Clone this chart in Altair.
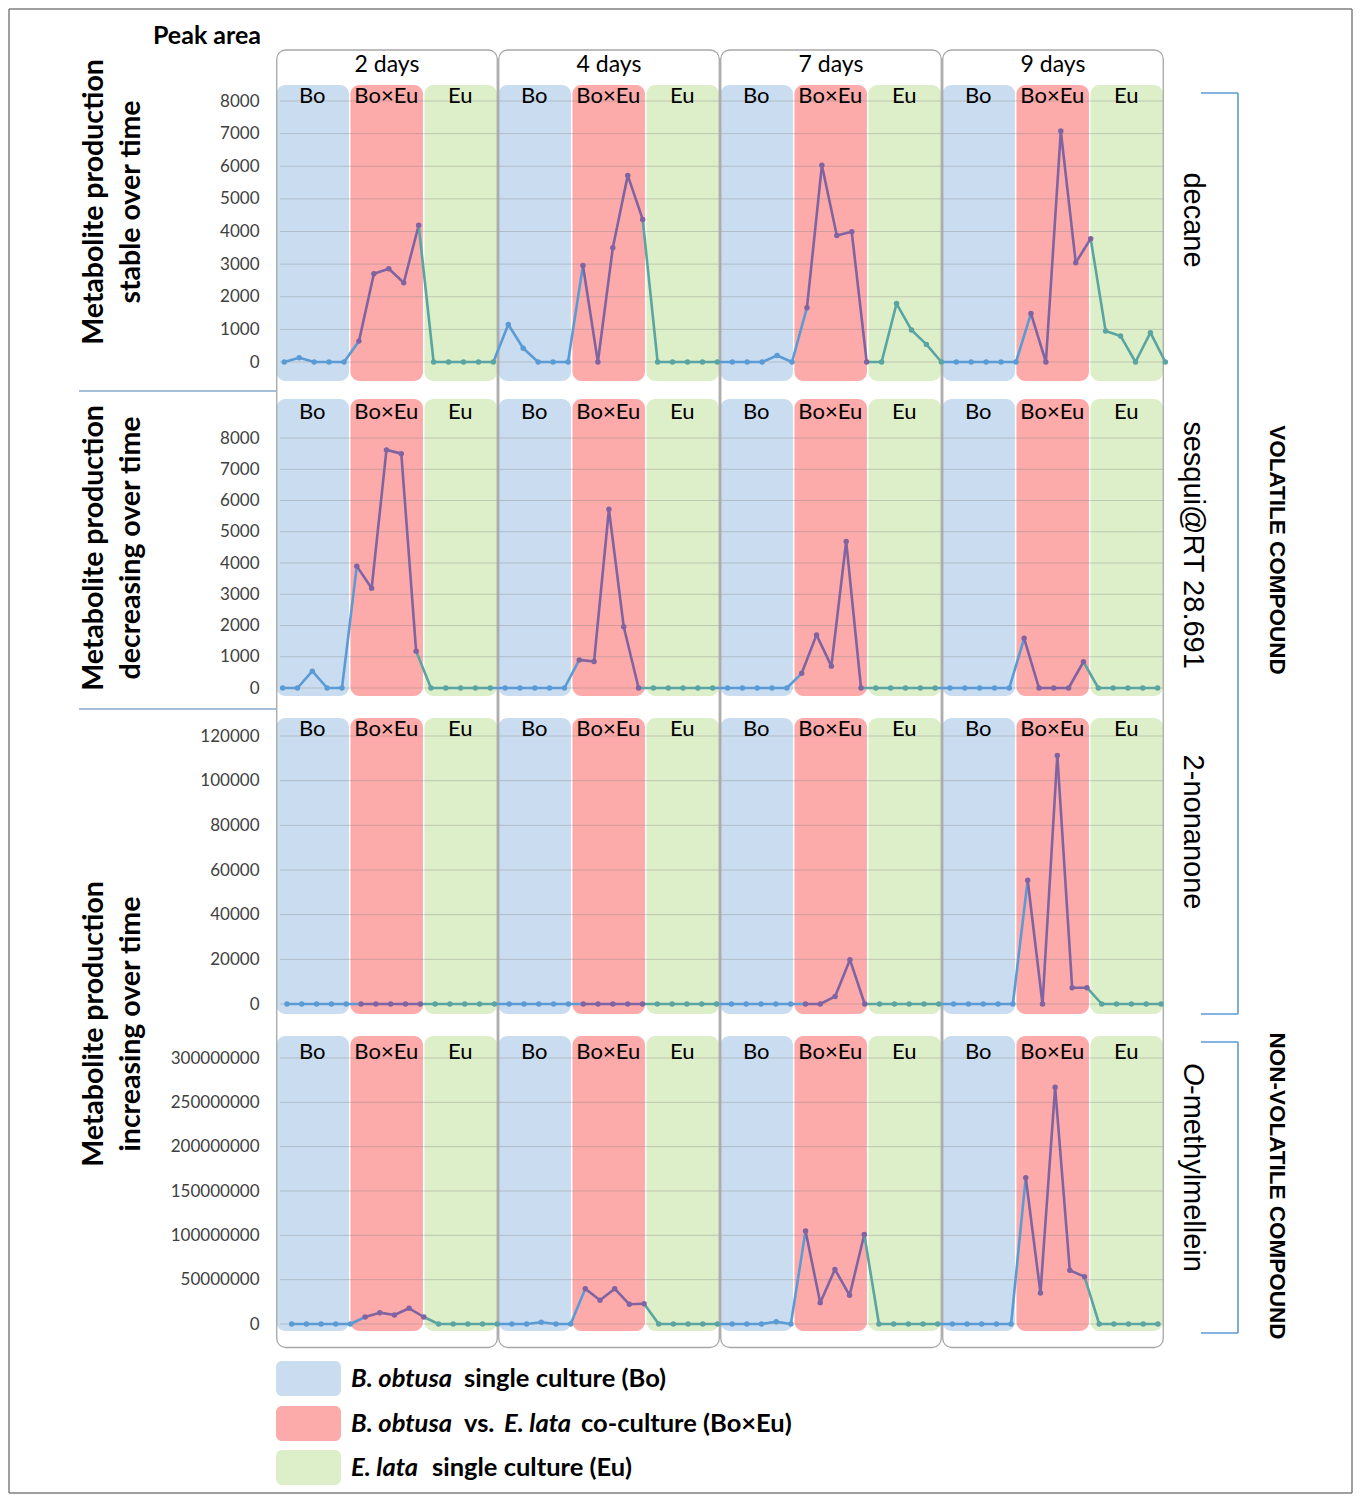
import altair as alt
import pandas as pd

# ---------------- data ----------------
days = ["2 days", "4 days", "7 days", "9 days"]
groups = ["Bo", "Bo×Eu", "Eu"]
compounds = ["decane", "sesqui@RT 28.691", "2-nonanone", "O-methylmellein"]
row_titles = [["Metabolite production", "stable over time"],
              ["Metabolite production", "decreasing over time"],
              ["Metabolite production", "increasing over time"]]

# peak areas, ordered day -> group (Bo, Bo×Eu, Eu) -> 5 replicates
decane = [
    0, 130, 0, 0, 0,      640, 2705, 2860, 2430, 4190,   0, 0, 0, 0, 0,
    1150, 420, 0, 0, 0,   2960, 0, 3500, 5720, 4370,     0, 0, 0, 0, 0,
    0, 0, 0, 200, 0,      1665, 6030, 3880, 3990, 0,     0, 1790, 980, 540, 0,
    0, 0, 0, 0, 0,        1490, 0, 7080, 3045, 3780,     950, 800, 0, 900, 0,
]
sesqui = [
    0, 0, 540, 0, 0,      3900, 3190, 7620, 7500, 1180,  0, 0, 0, 0, 0,
    0, 0, 0, 0, 0,        900, 850, 5720, 1960, 0,       0, 0, 0, 0, 0,
    0, 0, 0, 0, 0,        470, 1700, 700, 4690, 0,       0, 0, 0, 0, 0,
    0, 0, 0, 0, 0,        1590, 0, 0, 0, 840,            0, 0, 0, 0, 0,
]
nonanone = [
    0, 0, 0, 0, 0,        0, 0, 0, 0, 0,                 0, 0, 0, 0, 0,
    0, 0, 0, 0, 0,        0, 0, 0, 0, 0,                 0, 0, 0, 0, 0,
    0, 0, 0, 0, 0,        0, 0, 3400, 19850, 0,          0, 0, 0, 0, 0,
    0, 0, 0, 0, 0,        55400, 0, 111300, 7300, 7300,  0, 0, 0, 0, 0,
]
methylmellein = [
    0, 0, 0, 0, 0,        7.9e6, 12.8e6, 10.2e6, 17.7e6, 7.9e6,        0, 0, 0, 0, 0,
    0, 0, 2.0e6, 0, 0,    39.8e6, 26.7e6, 39.8e6, 22.2e6, 22.9e6,      0, 0, 0, 0, 0,
    0, 0, 0, 2.6e6, 0,    104.9e6, 24.0e6, 61.6e6, 32.3e6, 101.0e6,    0, 0, 0, 0, 0,
    0, 0, 0, 0, 0,        165e6, 35e6, 267e6, 60.5e6, 53.4e6,          0, 0, 0, 0, 0,
]
series = [decane, sesqui, nonanone, methylmellein]

# ---------------- style / layout ----------------
FONT = "Lato"
FONT2 = "Liberation Sans"
W = 888
band_fill = ["#CADDF0", "#FDAAAA", "#DDEFC9"]
line_col = ["#5B9BD5", "#8064A2", "#5AA5A2"]
BORDER = "#7F7F7F"
COLBORDER = "#A6A6A6"
BRACKET = "#5B9BD5"
DIVIDER = "#86AACB"
L_OUT, R_OUT = -267, W + 188

rows_cfg = [
    dict(h=306, bt=0, bb=296, y0=277, ytop=16, tmax=8000, tstep=1000, xoff=0.56, xstep=1.009, laby=12),
    dict(h=318, bt=8, bb=305, y0=297, ytop=47, tmax=8000, tstep=1000, xoff=0.45, xstep=1.002, laby=22),
    dict(h=316, bt=9, bb=305, y0=295, ytop=27, tmax=120000, tstep=20000, xoff=0.74, xstep=1.001, laby=21),
    dict(h=324, bt=11, bb=306, y0=299, ytop=33, tmax=300000000, tstep=50000000, xoff=1.06, xstep=0.992, laby=28),
]

one = pd.DataFrame({"k": [0]})
xsc = alt.Scale(domain=[0, 60], nice=False, zero=False)


def X(f):
    return alt.X(f, type="quantitative", scale=xsc, axis=None, title=None)


def vrule(x, y1, y2, color=BORDER, w=1.5):
    return alt.Chart(one).mark_rule(color=color, strokeWidth=w).encode(
        x=alt.value(x), y=alt.value(y1), y2=alt.value(y2))


def hrule(x1, x2, y, color=BORDER, w=1.5):
    return alt.Chart(one).mark_rule(color=color, strokeWidth=w).encode(
        x=alt.value(x1), x2=alt.value(x2), y=alt.value(y))


def label(text, x, y, size, angle=0, weight="normal", style="normal", font=FONT,
          align="center", color="black"):
    return alt.Chart(one).mark_text(
        text=text, fontSize=size, angle=angle, fontWeight=weight, fontStyle=style,
        font=font, align=align, baseline="middle", color=color).encode(
        x=alt.value(x), y=alt.value(y))


col_df = pd.DataFrame({"c": range(4)})
col_df["x1"] = col_df["c"] * 15 + 0.05
col_df["x2"] = col_df["c"] * 15 + 14.95
col_df["xc"] = col_df["c"] * 15 + 7.5
col_df["day"] = days

band_rows = []
for c in range(4):
    for g in range(3):
        s = c * 15 + g * 5
        band_rows.append(dict(x1=s + 0.03, x2=s + 4.93, xm=s + 2.45, bg=groups[g]))
band_df = pd.DataFrame(band_rows)
gscale_fill = alt.Scale(domain=groups, range=band_fill)
gscale_line = alt.Scale(domain=groups, range=line_col)


def row_chart(r, extras):
    cfg = rows_cfg[r]
    vals = series[r]
    h = cfg["h"]
    ppu = (cfg["y0"] - cfg["ytop"]) / cfg["tmax"]
    lo = -(h - cfg["y0"]) / ppu
    hi = cfg["tmax"] + cfg["ytop"] / ppu
    ysc = alt.Scale(domain=[lo, hi], nice=False, zero=False)
    ticks = list(range(0, cfg["tmax"] + 1, cfg["tstep"]))
    yax = alt.Axis(values=ticks, grid=False, domain=False, ticks=False, labelFont=FONT,
                   labelFontSize=17, labelColor="#404040", labelPadding=17, format="d")

    def Y(f):
        return alt.Y(f, type="quantitative", scale=ysc, axis=yax, title=None)

    pts = pd.DataFrame({"i": range(60), "v": vals})
    pts["x"] = cfg["xoff"] + cfg["xstep"] * pts["i"]
    pts["g"] = [groups[(i % 15) // 5] for i in range(60)]
    seg = []
    for i in range(59):
        ga, gb = pts["g"][i], pts["g"][i + 1]
        if ga == gb:
            gc = ga
        elif ga == "Bo×Eu":
            gc = gb
        elif gb == "Bo×Eu":
            gc = ga
        else:
            gc = gb
        seg.append(dict(x=pts["x"][i], x2=pts["x"][i + 1], y=pts["v"][i], y2=pts["v"][i + 1], g=gc))
    seg_df = pd.DataFrame(seg)
    tick_df = pd.DataFrame({"t": ticks})

    bands = alt.Chart(band_df).mark_rect(cornerRadius=9).encode(
        x=X("x1"), x2="x2", y=alt.value(cfg["bt"]), y2=alt.value(cfg["bb"]),
        color=alt.Color("bg:N", scale=gscale_fill, legend=None))
    grid = alt.Chart(tick_df).mark_rule(color="#808080", opacity=0.35, strokeWidth=1).encode(
        y=Y("t"), x=alt.value(4), x2=alt.value(W))
    bottom = r == 3
    cols = alt.Chart(col_df).mark_rect(clip=True, fillOpacity=0, stroke=COLBORDER,
                                       strokeWidth=1.3, cornerRadius=9).encode(
        x=X("x1"), x2="x2", y=alt.value(-60), y2=alt.value(h - 1.5 if bottom else h + 60))
    lines = alt.Chart(seg_df).mark_rule(strokeWidth=2.6, strokeCap="round").encode(
        x=X("x"), x2="x2", y=Y("y"), y2="y2",
        color=alt.Color("g:N", scale=gscale_line, legend=None))
    dots = alt.Chart(pts).mark_circle(size=30, opacity=1).encode(
        x=X("x"), y=Y("v"), color=alt.Color("g:N", scale=gscale_line, legend=None))
    blabels = alt.Chart(band_df).mark_text(fontSize=22, font=FONT, color="black",
                                           baseline="middle").encode(
        x=X("xm"), y=alt.value(cfg["laby"] - 1), text="bg:N")
    layers = [bands, grid, cols, lines, dots, blabels,
              vrule(L_OUT, 0, h), vrule(R_OUT, 0, h)] + extras
    return alt.layer(*layers).resolve_scale(color="independent").properties(width=W, height=h)


TS = 28.5  # left title size
CS = 29  # compound size
VS = 22.5

row1 = row_chart(0, [
    label(row_titles[0][0], -182, 117, TS, angle=270, weight="bold"),
    label(row_titles[0][1], -145, 117, TS, angle=270, weight="bold"),
    label(compounds[0], 917, 135, CS, angle=90, font=FONT2),
    vrule(962, 8, 306, BRACKET, 1.6), hrule(925, 962, 8, BRACKET, 1.6),
])
row2 = row_chart(1, [
    label(row_titles[1][0], -182, 157, TS, angle=270, weight="bold"),
    label(row_titles[1][1], -145, 157, TS, angle=270, weight="bold"),
    label(compounds[1], 917, 154, CS, angle=90, font=FONT2),
    label("VOLATILE COMPOUND", 1001, 159, VS, angle=90, font=FONT2, weight="bold"),
    vrule(962, 0, 318, BRACKET, 1.6),
    hrule(-197, 0, 0, DIVIDER, 1.5),
])
row3 = row_chart(2, [
    label(row_titles[2][0], -182, 315, TS, angle=270, weight="bold"),
    label(row_titles[2][1], -145, 315, TS, angle=270, weight="bold"),
    label(compounds[2], 917, 123, CS, angle=90, font=FONT2),
    vrule(962, 0, 305, BRACKET, 1.6), hrule(925, 962, 305, BRACKET, 1.6),
    hrule(-197, 0, 0, DIVIDER, 1.5),
])
row4 = row_chart(3, [
    label("O", 917, 38, CS, angle=90, font=FONT2, style="italic", align="left"),
    label("-methylmellein", 917, 60, CS, angle=90, font=FONT2, align="left"),
    label("NON-VOLATILE COMPOUND", 1001, 161, VS, angle=90, font=FONT2, weight="bold"),
    vrule(962, 17, 308, BRACKET, 1.6), hrule(925, 962, 17, BRACKET, 1.6),
    hrule(925, 962, 308, BRACKET, 1.6),
])

HH = 76
header = alt.layer(
    hrule(L_OUT, R_OUT, 0), vrule(L_OUT, 0, HH), vrule(R_OUT, 0, HH),
    label("Peak area", -69, 27, 25, weight="bold"),
    alt.Chart(col_df).mark_text(fontSize=23, font=FONT, baseline="middle").encode(
        x=X("xc"), y=alt.value(56), text="day:N"),
    alt.Chart(col_df).mark_rect(clip=True, fillOpacity=0, stroke=COLBORDER,
                                strokeWidth=1.3, cornerRadius=9).encode(
        x=X("x1"), x2="x2", y=alt.value(41), y2=alt.value(HH + 60)),
).properties(width=W, height=HH)

LH = 144
LS = 25.5
leg_layers = [vrule(L_OUT, 0, LH), vrule(R_OUT, 0, LH), hrule(L_OUT, R_OUT, LH)]
leg_y = [30, 75, 119]
for i in range(3):
    leg_layers.append(alt.Chart(one).mark_rect(color=band_fill[i], cornerRadius=6).encode(
        x=alt.value(0), x2=alt.value(65), y=alt.value(leg_y[i] - 18), y2=alt.value(leg_y[i] + 17)))
pieces = [
    (0, "B. obtusa", True, 75), (0, "single culture (Bo)", False, 188),
    (1, "B. obtusa", True, 75), (1, "vs.", False, 188), (1, "E. lata", True, 228),
    (1, "co-culture (Bo×Eu)", False, 305),
    (2, "E. lata", True, 75), (2, "single culture (Eu)", False, 156),
]
for (i, t, it, px) in pieces:
    leg_layers.append(label(t, px, leg_y[i], LS, weight="bold",
                            style="italic" if it else "normal", align="left"))
legend = alt.layer(*leg_layers).properties(width=W, height=LH)

chart = alt.vconcat(header, row1, row2, row3, row4, legend, spacing=0, bounds="flush",
                    padding=0).resolve_scale(x="independent", y="independent").configure(
    font=FONT).configure_view(strokeWidth=0, stroke="transparent")

chart.save("out.html", embed_options={"renderer": "svg", "actions": False})
